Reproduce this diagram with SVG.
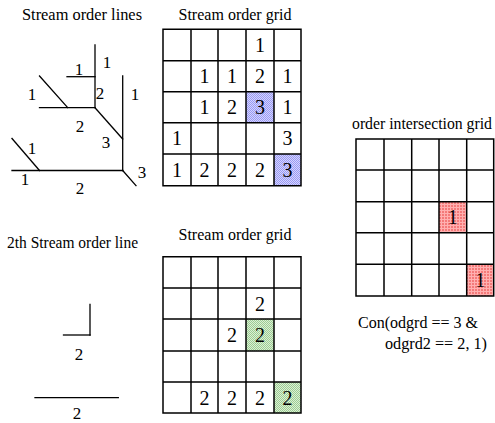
<svg xmlns="http://www.w3.org/2000/svg" width="495" height="423" viewBox="0 0 495 423">
  <style>
    text { fill: #000; font-family: "Liberation Serif", "Times New Roman", "Noto Serif", "DejaVu Serif Condensed", "DejaVu Serif", serif; }
    .title { font-size: 16px; }
    .lbl { font-size: 17px; text-anchor: middle; }
    .num { font-size: 20px; text-anchor: middle; }
    .con { font-size: 17px; }
    .ln { stroke: #000; stroke-width: 1.3; fill: none; stroke-linecap: square; }
    .grid { stroke: #000; stroke-width: 1.5; fill: none; }
  </style>
  <defs>
    <pattern id="dotBlue" width="2" height="2" patternUnits="userSpaceOnUse">
      <rect width="2" height="2" fill="#d4d4ff"/>
      <rect width="1" height="1" fill="#9a9af2"/>
      <rect x="1" y="1" width="1" height="1" fill="#9a9af2"/>
    </pattern>
    <pattern id="dotGreen" width="2" height="2" patternUnits="userSpaceOnUse">
      <rect width="2" height="2" fill="#dcf0d4"/>
      <rect width="1" height="1" fill="#9ccc94"/>
      <rect x="1" y="1" width="1" height="1" fill="#9ccc94"/>
    </pattern>
    <pattern id="meshRed" width="3" height="3" patternUnits="userSpaceOnUse">
      <rect width="3" height="3" fill="#f47a7a"/>
      <rect width="3" height="1" fill="#ffb0b0"/>
      <rect width="1" height="3" fill="#ffb0b0"/>
    </pattern>
  </defs>

  <!-- top left: stream order lines -->
  <g id="stream-lines">
    <text class="title" x="22" y="20" textLength="120" lengthAdjust="spacingAndGlyphs">Stream order lines</text>
    <g class="ln">
      <line x1="95" y1="45" x2="95" y2="107.7"/>
      <line x1="67" y1="76.7" x2="95" y2="76.7"/>
      <line x1="39.5" y1="76" x2="67.7" y2="107.7"/>
      <line x1="39.5" y1="107.7" x2="95" y2="107.7"/>
      <line x1="95" y1="107.7" x2="122.7" y2="139"/>
      <line x1="122.7" y1="76" x2="122.7" y2="170.5"/>
      <line x1="12" y1="138.5" x2="39.5" y2="170.5"/>
      <line x1="12" y1="170.5" x2="122.7" y2="170.5"/>
      <line x1="122.7" y1="170.5" x2="136" y2="185.7"/>
    </g>
    <text class="lbl" x="107" y="68">1</text>
    <text class="lbl" x="79" y="75">1</text>
    <text class="lbl" x="100" y="99">2</text>
    <text class="lbl" x="32" y="100">1</text>
    <text class="lbl" x="135" y="100">1</text>
    <text class="lbl" x="80" y="132">2</text>
    <text class="lbl" x="106" y="148">3</text>
    <text class="lbl" x="32" y="154">1</text>
    <text class="lbl" x="25" y="185">1</text>
    <text class="lbl" x="80" y="194">2</text>
    <text class="lbl" x="142" y="178">3</text>
  </g>

  <!-- top middle: stream order grid -->
  <g id="order-grid">
    <text class="title" x="178.5" y="20" textLength="113" lengthAdjust="spacingAndGlyphs">Stream order grid</text>
    <rect x="246" y="91.7" width="28" height="31" fill="url(#dotBlue)"/>
    <rect x="274" y="154" width="27" height="31.7" fill="url(#dotBlue)"/>
    <path class="grid" d="M163 29.3H301V185.7H163Z M191 29.3V185.7 M218 29.3V185.7 M246 29.3V185.7 M274 29.3V185.7 M163 60.7H301 M163 91.7H301 M163 122.7H301 M163 154H301"/>
    <text class="num" x="260" y="52">1</text>
    <text class="num" x="204.5" y="83">1</text>
    <text class="num" x="232" y="83">1</text>
    <text class="num" x="260" y="83">2</text>
    <text class="num" x="287.5" y="83">1</text>
    <text class="num" x="204.5" y="114">1</text>
    <text class="num" x="232" y="114">2</text>
    <text class="num" x="260" y="114">3</text>
    <text class="num" x="287.5" y="114">1</text>
    <text class="num" x="177" y="145">1</text>
    <text class="num" x="287.5" y="145">3</text>
    <text class="num" x="177" y="177">1</text>
    <text class="num" x="204.5" y="177">2</text>
    <text class="num" x="232" y="177">2</text>
    <text class="num" x="260" y="177">2</text>
    <text class="num" x="287.5" y="177">3</text>
  </g>

  <!-- bottom left: 2nd order stream lines -->
  <g id="stream-lines-2">
    <text class="title" x="7" y="248" textLength="131" lengthAdjust="spacingAndGlyphs">2th Stream order line</text>
    <g class="ln">
      <line x1="90" y1="304.5" x2="90" y2="335"/>
      <line x1="63.5" y1="335" x2="90" y2="335"/>
      <line x1="35" y1="397.7" x2="118.3" y2="397.7"/>
    </g>
    <text class="lbl" x="79" y="360">2</text>
    <text class="lbl" x="77" y="419">2</text>
  </g>

  <!-- bottom middle: 2nd order grid -->
  <g id="order-grid-2">
    <text class="title" x="178.5" y="240" textLength="113" lengthAdjust="spacingAndGlyphs">Stream order grid</text>
    <rect x="246" y="319" width="28" height="32" fill="url(#dotGreen)"/>
    <rect x="274" y="382" width="27" height="31" fill="url(#dotGreen)"/>
    <path class="grid" d="M163 256.7H301V413H163Z M191 256.7V413 M218 256.7V413 M246 256.7V413 M274 256.7V413 M163 288H301 M163 319H301 M163 351H301 M163 382H301"/>
    <text class="num" x="260" y="311">2</text>
    <text class="num" x="232" y="342">2</text>
    <text class="num" x="260" y="342">2</text>
    <text class="num" x="204.5" y="405">2</text>
    <text class="num" x="232" y="405">2</text>
    <text class="num" x="260" y="405">2</text>
    <text class="num" x="287.5" y="405">2</text>
  </g>

  <!-- right: intersection grid -->
  <g id="intersection-grid">
    <text class="title" x="352" y="129" textLength="140" lengthAdjust="spacingAndGlyphs">order intersection grid</text>
    <rect x="439" y="201.7" width="27.7" height="31" fill="url(#meshRed)"/>
    <rect x="466.7" y="264.3" width="27" height="31.7" fill="url(#meshRed)"/>
    <path class="grid" d="M356 139H493.7V296H356Z M384 139V296 M411.7 139V296 M439 139V296 M466.7 139V296 M356 170H493.7 M356 201.7H493.7 M356 232.7H493.7 M356 264.3H493.7"/>
    <text class="num" x="452.8" y="224">1</text>
    <text class="num" x="480.3" y="287">1</text>
  </g>

  <!-- condition expression -->
  <g id="condition">
    <text class="con" x="358" y="328" textLength="120" lengthAdjust="spacingAndGlyphs">Con(odgrd == 3 &amp;</text>
    <text class="con" x="385" y="349" textLength="102" lengthAdjust="spacingAndGlyphs">odgrd2 == 2, 1)</text>
  </g>
</svg>
